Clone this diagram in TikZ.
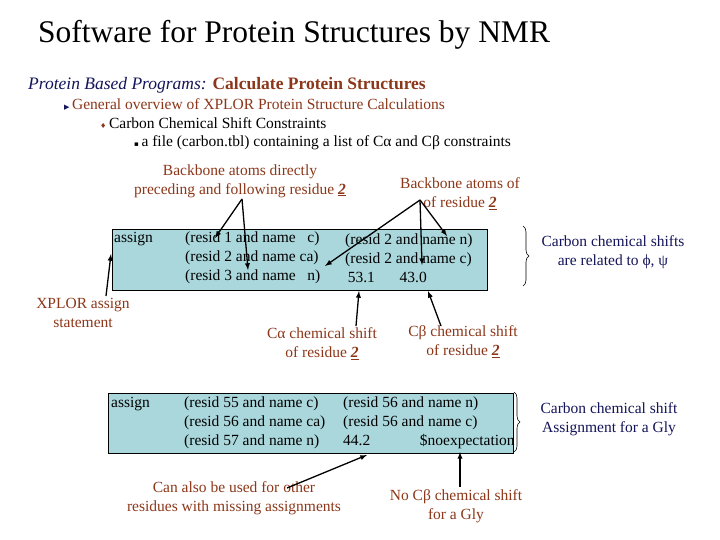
\documentclass[tikz,border=0pt]{standalone}
\usepackage{fontspec}
\setmainfont{Liberation Serif}
\newfontfamily\symf{DejaVu Sans}
\usetikzlibrary{decorations.pathreplacing}
\definecolor{br}{RGB}{140,55,25}
\definecolor{bx}{RGB}{170,215,220}
\definecolor{nv}{RGB}{20,20,90}
\begin{document}
\begin{tikzpicture}[x=1pt,y=-1pt,
  lbl/.style={text=br,font=\fontsize{15.5}{19}\selectfont,align=center,inner sep=1pt},
  code/.style={font=\fontsize{15.5}{19}\selectfont,anchor=west,inner sep=0pt,align=left},
  arr/.style={-latex,line width=1.3pt},
  boxs/.style={fill=bx,draw=black,line width=0.8pt},
  brc/.style={decorate,decoration={brace,amplitude=6pt},line width=0.6pt}]
\useasboundingbox[fill=white] (0,0) rectangle (720,540);
\node[anchor=west,font=\fontsize{31.5}{33}\selectfont,inner sep=0pt] (title) at (38,35) {Software for Protein Structures by NMR};
\node[anchor=west,font=\fontsize{17.5}{19}\selectfont,inner sep=0pt] (h1) at (28,85) {\textcolor{nv}{\textit{Protein Based Programs:}} \textcolor{br}{\textbf{Calculate Protein Structures}}};
\node[anchor=west,font=\fontsize{15.5}{17}\selectfont,inner sep=0pt] (h2) at (64,104) {\textcolor{nv}{\fontsize{7}{8}\symf ▶}\,\textcolor{br}{General overview of XPLOR Protein Structure Calculations}};
\node[anchor=west,font=\fontsize{15.5}{17}\selectfont,inner sep=0pt] (h3) at (100,123) {\textcolor{br}{\fontsize{7}{8}\symf ♦}\,Carbon Chemical Shift Constraints};
\node[anchor=west,font=\fontsize{15.5}{17}\selectfont,inner sep=0pt] (h4) at (134,143) {{\fontsize{7}{8}\symf ▪}\,a file (carbon.tbl) containing a list of Cα and Cβ constraints};
% box 1
\draw[boxs] (112,229) rectangle (487,290);
\node[code] (a1) at (114,239) {assign};
\node[code] (c1) at (185,258) {(resid 1 and name\ \ \ c)\\(resid 2 and name ca)\\(resid 3 and name\ \ \ n)};
\node[code] (d1) at (345,258) {(resid 2 and name n)\\(resid 2 and name c)\\\,53.1\hspace{1.6em}43.0};
\coordinate (p1) at (215,238); \coordinate (p2) at (248,270);
\coordinate (p3) at (325,266); \coordinate (p4) at (422,265); \coordinate (p5) at (447,236);
\coordinate (p6) at (359,291); \coordinate (p7) at (428,291);
\node[lbl] (L1) at (240,181) {Backbone atoms directly\\preceding and following residue \underline{\textbf{\textit{2}}}};
\node[lbl] (L2) at (460,194) {Backbone atoms of\\of residue \underline{\textbf{\textit{2}}}};
\coordinate (o1) at (242,199); \coordinate (o2) at (420,200);
\draw[arr] (o1) -- (p1); \draw[arr] (o1) -- (p2);
\draw[arr] (o2) -- (p3); \draw[arr] (o2) -- (p4); \draw[arr] (o2) -- (p5);
\node[lbl] (L3) at (83,313) {XPLOR assign\\statement};
\coordinate (q3) at (106,296);
\draw[arr] (q3) -- (111,254);
\node[lbl] (L4) at (322,344) {Cα chemical shift\\of residue \underline{\textbf{\textit{2}}}};
\node[lbl] (L5) at (463,342) {Cβ chemical shift\\of residue \underline{\textbf{\textit{2}}}};
\draw[arr] (356,326) -- (p6);
\draw[arr] (441,326) -- (p7);
\draw[brc] (523,226) -- (523,286);
\node[lbl,text=nv] (R1) at (613,252) {Carbon chemical shifts\\are related to ϕ, ψ};
% box 2
\draw[boxs] (108,393) rectangle (513,453);
\node[code] (a2) at (111,404) {assign};
\node[code] (c2) at (184,423) {(resid 55 and name c)\\(resid 56 and name ca)\\(resid 57 and name n)};
\node[code] (d2) at (343,423) {(resid 56 and name n)\\(resid 56 and name c)\\44.2\hspace{3.2em}\$noexpectation};
\draw[brc] (514,392) -- (514,452);
\node[lbl,text=nv] (R2) at (609,419) {Carbon chemical shift\\Assignment for a Gly};
\node[lbl] (L6) at (234,498) {Can also be used for other\\residues with missing assignments};
\node[lbl] (L7) at (456,506) {No Cβ chemical shift\\for a Gly};
\draw[arr] (287,488) -- (367,455);
\draw[arr] (460,487) -- (460,452);
\end{tikzpicture}
\end{document}
